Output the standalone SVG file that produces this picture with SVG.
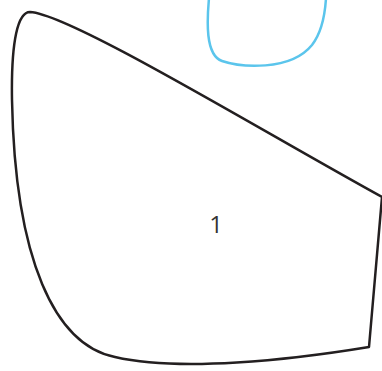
<svg xmlns="http://www.w3.org/2000/svg" width="382" height="371" viewBox="0 0 382 371">
<style>
.shape{fill:none;stroke-linejoin:round;stroke-linecap:round}
.dark{stroke:#231f20;stroke-width:2.5}
.blue{stroke:#5bc5ec;stroke-width:2.5}
.lbl{font-family:"Open Sans","Noto Sans",sans-serif;font-size:24px;fill:#333}
</style>
<rect width="382" height="371" fill="#fff"/>
<g id="node-1">
<path class="shape dark" d="M 382,197 L 369,347 C 290,360 180,372 115,357 C 55,345 15,260 12,100 C 11,40 18,12 30,12 C 70,14 260,130 382,197 Z"/>
<text class="lbl" x="216" y="233" text-anchor="middle">1</text>
</g>
<g id="node-2">
<path class="shape blue" d="M 209,-2 C 207,20 205,55 222,61 C 240,67 290,72 312,45 C 322,32 325,15 326,-2"/>
</g>
<g id="connectors"></g>
</svg>
